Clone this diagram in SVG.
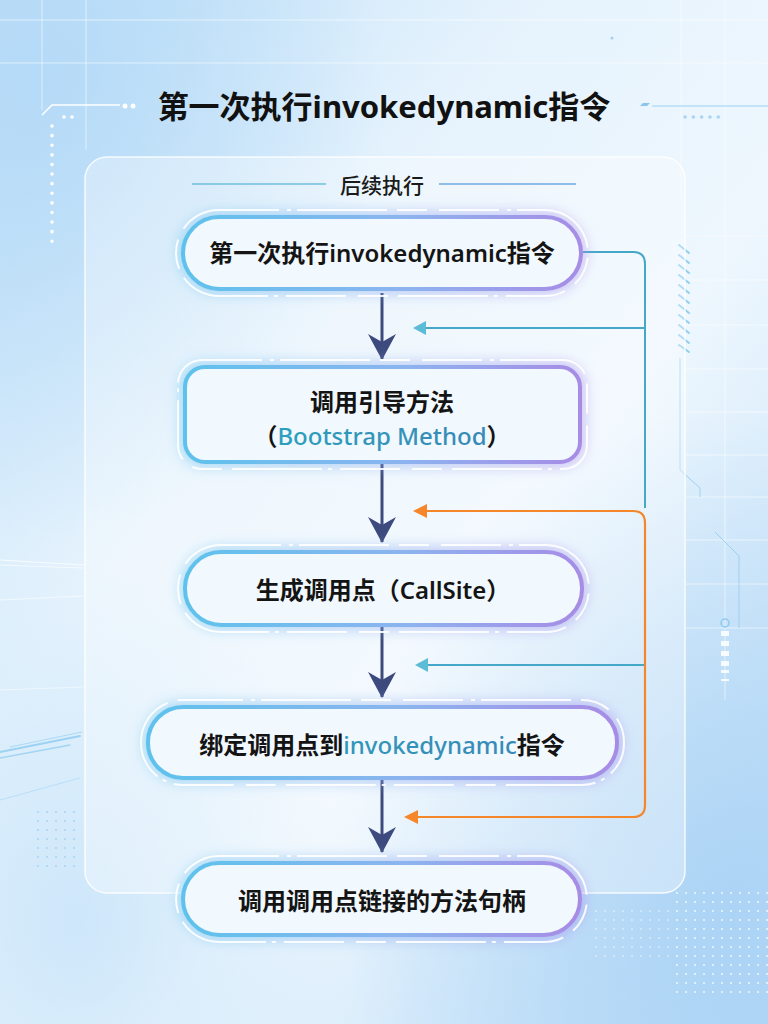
<svg xmlns="http://www.w3.org/2000/svg" width="768" height="1024" viewBox="0 0 768 1024">
  <defs>
    <linearGradient id="bg" x1="0" y1="0" x2="1" y2="1">
      <stop offset="0" stop-color="#bfe0f8"/>
      <stop offset="0.35" stop-color="#e6f3fd"/>
      <stop offset="0.6" stop-color="#eef7fe"/>
      <stop offset="1" stop-color="#b9dbf6"/>
    </linearGradient>
    <radialGradient id="blobTL" cx="0.05" cy="0.08" r="0.45">
      <stop offset="0" stop-color="#b3d9f7" stop-opacity="0.9"/>
      <stop offset="1" stop-color="#b3d9f7" stop-opacity="0"/>
    </radialGradient>
    <radialGradient id="blobBR" cx="0.95" cy="0.9" r="0.5">
      <stop offset="0" stop-color="#a9d2f5" stop-opacity="0.9"/>
      <stop offset="1" stop-color="#a9d2f5" stop-opacity="0"/>
    </radialGradient>
    <radialGradient id="blobBL" cx="0.1" cy="0.9" r="0.35">
      <stop offset="0" stop-color="#c6e3f9" stop-opacity="0.8"/>
      <stop offset="1" stop-color="#c6e3f9" stop-opacity="0"/>
    </radialGradient>
    <linearGradient id="edge" x1="0" y1="0" x2="1" y2="0">
      <stop offset="0" stop-color="#5ec2ec"/>
      <stop offset="0.55" stop-color="#8cb4ef"/>
      <stop offset="1" stop-color="#a78ce6"/>
    </linearGradient>
    <linearGradient id="glowFill" x1="0" y1="0" x2="1" y2="0">
      <stop offset="0" stop-color="#6cc6f0"/>
      <stop offset="1" stop-color="#a890ec"/>
    </linearGradient>
    <linearGradient id="teal" x1="0" y1="0" x2="1" y2="0">
      <stop offset="0" stop-color="#2aa2bd"/>
      <stop offset="1" stop-color="#3b86b5"/>
    </linearGradient>
    <filter id="blur" x="-20%" y="-50%" width="140%" height="200%">
      <feGaussianBlur stdDeviation="7"/>
    </filter>
    <pattern id="dots" width="9" height="9" patternUnits="userSpaceOnUse">
      <circle cx="2" cy="2" r="1" fill="#ffffff" fill-opacity="0.8"/>
    </pattern>
    <pattern id="dotsBlue" width="9" height="9" patternUnits="userSpaceOnUse">
      <circle cx="2" cy="2" r="0.9" fill="#8cc6ee" fill-opacity="0.7"/>
    </pattern>
    <!-- navy chevron head, drawn pointing along +x so orient="auto" works -->
    <marker id="navyHead" viewBox="0 0 26 28" refX="25" refY="14" markerWidth="26" markerHeight="28" markerUnits="userSpaceOnUse" orient="auto">
      <path d="M0,0 L8,14 L0,28 L26,14 Z" fill="#3d4a7e"/>
    </marker>
    <style>
      .node-text { font-family: "Noto Sans", "Noto Sans CJK SC", sans-serif; font-size: 24px; font-weight: 600; fill: #141414; text-anchor: middle; dominant-baseline: central; }
      .accent { fill: url(#teal); }
      .body { fill: #f1f8fe; stroke: url(#edge); stroke-width: 4; }
      .glow { fill: url(#glowFill); opacity: 0.55; filter: url(#blur); }
      .ring { fill: none; stroke: #ffffff; stroke-width: 2; stroke-opacity: 0.9; stroke-dasharray: 60 8 4 6 90 10 30 12; }
      .navy { stroke: #3d4a7e; stroke-width: 3; fill: none; }
      .tealLine { stroke: #45a8c9; stroke-width: 2; fill: none; }
      .orangeLine { stroke: #f5862a; stroke-width: 2.2; fill: none; }
      .grid { stroke: #ffffff; stroke-opacity: 0.55; stroke-width: 1; }
      .deco { stroke: #9fd0f2; fill: none; stroke-width: 1; }
    </style>
  </defs>

  <!-- backdrop -->
  <rect width="768" height="1024" fill="url(#bg)"/>
  <rect width="768" height="1024" fill="url(#blobTL)"/>
  <rect width="768" height="1024" fill="url(#blobBR)"/>
  <rect width="768" height="1024" fill="url(#blobBL)"/>

  <!-- faint grid -->
  <g class="grid">
    <line x1="0" y1="20" x2="768" y2="20"/>
    <line x1="0" y1="63" x2="768" y2="63"/>
    <line x1="42" y1="0" x2="42" y2="110"/>
    <line x1="86" y1="0" x2="86" y2="150"/>
    <line x1="681" y1="0" x2="681" y2="200"/>
    <line x1="725" y1="0" x2="725" y2="700"/>
    <line x1="686" y1="236" x2="768" y2="236"/>
    <line x1="686" y1="280" x2="768" y2="280"/>
    <line x1="686" y1="325" x2="768" y2="325"/>
    <line x1="686" y1="369" x2="768" y2="369"/>
    <line x1="686" y1="412" x2="768" y2="412"/>
    <line x1="686" y1="455" x2="768" y2="455"/>
    <line x1="686" y1="497" x2="768" y2="497"/>
    <line x1="686" y1="540" x2="768" y2="540"/>
    <line x1="686" y1="584" x2="768" y2="584"/>
    <line x1="686" y1="628" x2="768" y2="628"/>
  </g>

  <!-- corner ornaments -->
  <g id="ornaments">
    <path d="M42,115 L52,105 L120,105" stroke="#ffffff" stroke-width="1.5" fill="none"/>
    <circle cx="125" cy="106" r="2.5" fill="#ffffff"/>
    <circle cx="133" cy="106" r="2.5" fill="#ffffff"/>
    <circle cx="64" cy="117" r="1.8" fill="#ffffff"/>
    <circle cx="72" cy="117" r="1.8" fill="#ffffff"/>
    <line x1="52" y1="126" x2="52" y2="242" stroke="#ffffff" stroke-width="3.5" stroke-linecap="round" stroke-dasharray="0.1 9.5"/>
    <path d="M640,106 L643,103 L650,103 L647,106 Z" fill="#8cc4ee"/>
    <line x1="652" y1="106" x2="768" y2="106" stroke="#b6dcf6" stroke-width="1.5"/>
    <line x1="685" y1="117" x2="720" y2="117" stroke="#a9d4f3" stroke-width="3.5" stroke-linecap="round" stroke-dasharray="0.1 8.2"/>
    <circle cx="612" cy="38" r="1.5" fill="#9fd0f2"/>
    <!-- hatch marks on the right -->
    <g stroke="#8ecff0" stroke-width="2" stroke-linecap="round">
      <line x1="679" y1="245" x2="689" y2="253"/>
      <line x1="679" y1="255" x2="689" y2="263"/>
      <line x1="679" y1="265" x2="689" y2="273"/>
      <line x1="679" y1="275" x2="689" y2="283"/>
      <line x1="679" y1="285" x2="689" y2="293"/>
      <line x1="679" y1="295" x2="689" y2="303"/>
      <line x1="679" y1="305" x2="689" y2="313"/>
      <line x1="679" y1="315" x2="689" y2="323"/>
      <line x1="679" y1="325" x2="689" y2="333"/>
      <line x1="679" y1="335" x2="689" y2="343"/>
      <line x1="679" y1="345" x2="689" y2="352"/>
    </g>
    <path class="deco" d="M680,358 L680,470 L700,488 L700,497"/>
    <path class="deco" d="M715,532 L739,556 L739,628"/>
    <circle cx="725" cy="623" r="4" fill="none" stroke="#8ecbf0" stroke-width="1.5"/>
    <g fill="#ffffff" fill-opacity="0.85">
      <rect x="721" y="631" width="8" height="5"/>
      <rect x="721" y="641" width="8" height="5"/>
      <rect x="721" y="651" width="8" height="5"/>
      <rect x="721" y="661" width="8" height="5"/>
      <rect x="721" y="670" width="8" height="3"/>
      <rect x="721" y="679" width="8" height="2"/>
    </g>
    <!-- light streaks on the left -->
    <g stroke="#8ccaf0" stroke-linecap="round" fill="none">
      <line x1="0" y1="752" x2="80" y2="736" stroke-width="2" stroke-opacity="0.8"/>
      <line x1="0" y1="758" x2="70" y2="745" stroke-width="1.5" stroke-opacity="0.7"/>
      <line x1="10" y1="747" x2="82" y2="732" stroke-width="1" stroke-opacity="0.6"/>
      <line x1="0" y1="800" x2="80" y2="778" stroke-width="1" stroke-opacity="0.4"/>
      <line x1="0" y1="560" x2="83" y2="565" stroke-width="1" stroke="#ffffff" stroke-opacity="0.8"/>
      <line x1="0" y1="565" x2="83" y2="568" stroke-width="1" stroke="#ffffff" stroke-opacity="0.6"/>
      <line x1="0" y1="600" x2="83" y2="596" stroke-width="1" stroke="#ffffff" stroke-opacity="0.6"/>
      <line x1="0" y1="690" x2="83" y2="687" stroke-width="1" stroke="#ffffff" stroke-opacity="0.5"/>
    </g>
    <rect x="30" y="810" width="50" height="60" fill="url(#dotsBlue)"/>
    <rect x="670" y="890" width="98" height="110" fill="url(#dots)"/>
    <rect x="590" y="910" width="80" height="50" fill="url(#dots)" opacity="0.6"/>
  </g>

  <!-- translucent panel -->
  <rect id="panel" x="85" y="157" width="600" height="736" rx="22" fill="#ffffff" fill-opacity="0.32" stroke="#ffffff" stroke-opacity="0.85" stroke-width="1.5"/>

  <!-- headings -->
  <text id="title" x="384" y="106" font-family="'Noto Sans', 'Noto Sans CJK SC', sans-serif" font-size="31" font-weight="700" fill="#111111" text-anchor="middle" dominant-baseline="central">第一次执行invokedynamic指令</text>
  <g id="section">
    <line x1="192" y1="184" x2="326" y2="184" stroke="#6fbfe0" stroke-width="1.3"/>
    <line x1="439" y1="184" x2="576" y2="184" stroke="#6fa8e0" stroke-width="1.3"/>
    <text x="382" y="185" font-family="'Noto Sans', 'Noto Sans CJK SC', sans-serif" font-size="21" font-weight="500" fill="#1a1a1a" text-anchor="middle" dominant-baseline="central">后续执行</text>
  </g>

  <!-- connectors -->
  <g id="connectors">
    <line class="navy" x1="382" y1="293" x2="382" y2="359" marker-end="url(#navyHead)"/>
    <line class="navy" x1="382" y1="464" x2="382" y2="542" marker-end="url(#navyHead)"/>
    <line class="navy" x1="382" y1="627" x2="382" y2="697" marker-end="url(#navyHead)"/>
    <line class="navy" x1="382" y1="780" x2="382" y2="852" marker-end="url(#navyHead)"/>

    <path class="tealLine" d="M583,252 L633,252 Q645,252 645,264 L645,508"/>
    <line class="tealLine" x1="645" y1="328" x2="424" y2="328"/>
    <path d="M413,328 L426,321 L426,335 Z" fill="#5cbbd6"/>
    <line class="tealLine" x1="645" y1="665" x2="426" y2="665"/>
    <path d="M415,665 L428,658 L428,672 Z" fill="#5cbbd6"/>

    <path class="orangeLine" d="M424,511 L633,511 Q645,511 645,523 L645,805 Q645,817 633,817 L416,817"/>
    <path d="M413,511 L427,504 L427,518 Z" fill="#f5862a"/>
    <path d="M404,817 L418,810 L418,824 Z" fill="#f5862a"/>
  </g>

  <!-- node 1 -->
  <g id="n1">
    <rect class="glow" x="178" y="212" width="408" height="82" rx="41"/>
    <rect class="ring" x="176" y="210" width="412" height="86" rx="43"/>
    <rect class="body" x="183" y="217" width="398" height="72" rx="36"/>
    <text class="node-text" x="382" y="252">第一次执行invokedynamic指令</text>
  </g>

  <!-- node 2 -->
  <g id="n2">
    <rect class="glow" x="180" y="362" width="405" height="105" rx="24"/>
    <rect class="ring" x="178" y="360" width="409" height="109" rx="24"/>
    <rect class="body" x="185" y="367" width="395" height="95" rx="20"/>
    <text class="node-text" x="382" y="401">调用引导方法</text>
    <text class="node-text" x="382" y="435">（<tspan class="accent" font-weight="500">Bootstrap Method</tspan>）</text>
  </g>

  <!-- node 3 -->
  <g id="n3">
    <rect class="glow" x="180" y="547" width="407" height="83" rx="41"/>
    <rect class="ring" x="178" y="545" width="411" height="87" rx="43"/>
    <rect class="body" x="185" y="552" width="397" height="73" rx="36"/>
    <text class="node-text" x="383" y="589">生成调用点（CallSite）</text>
  </g>

  <!-- node 4 -->
  <g id="n4">
    <rect class="glow" x="143" y="702" width="479" height="81" rx="40"/>
    <rect class="ring" x="141" y="700" width="483" height="85" rx="42"/>
    <rect class="body" x="148" y="707" width="469" height="71" rx="35"/>
    <text class="node-text" x="382" y="744">绑定调用点到<tspan class="accent" font-weight="500">invokedynamic</tspan>指令</text>
  </g>

  <!-- node 5 -->
  <g id="n5">
    <rect class="glow" x="178" y="858" width="407" height="82" rx="41"/>
    <rect class="ring" x="176" y="856" width="411" height="86" rx="43"/>
    <rect class="body" x="183" y="863" width="397" height="72" rx="36"/>
    <text class="node-text" x="382" y="900">调用调用点链接的方法句柄</text>
  </g>
</svg>
